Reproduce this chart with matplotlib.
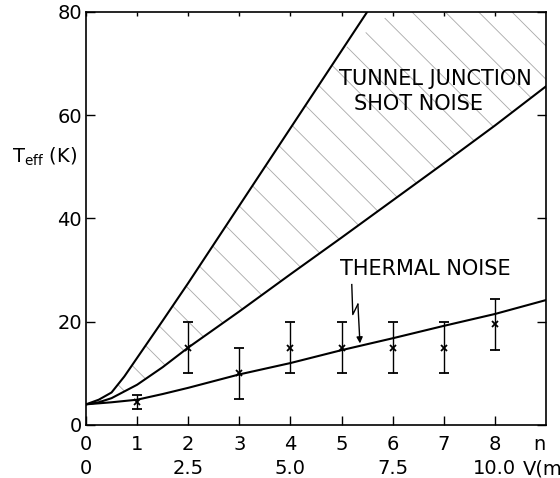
import numpy as np
import matplotlib
matplotlib.use("Agg")
import matplotlib.pyplot as plt

plt.rcParams['font.family'] = ['DejaVu Sans']
plt.rcParams['hatch.linewidth'] = 0.6
plt.rcParams['hatch.color'] = '#a8a8a8'

# Measured effective noise temperature vs harmonic number n
meas_n = [1, 2, 3, 4, 5, 6, 7, 8]
meas_T = [4.5, 15, 10, 15, 15, 15, 15, 19.5]
meas_err = [1.4, 5, 5, 5, 5, 5, 5, 5]

# Thermal noise curve
thermal_n = [0, 0.5, 1, 1.5, 2, 3, 4, 5, 6, 7, 8, 9]
thermal_T = [4.0, 4.4, 4.9, 6.0, 7.2, 9.8, 12.0, 14.5, 16.8, 19.2, 21.5, 24.2]

# Tunnel junction shot noise: lower and upper bounds
shot_lo_n = [0, 0.25, 0.5, 1, 1.5, 2, 3, 4, 5, 6, 7, 8, 9]
shot_lo_T = [4.0, 4.4, 5.2, 7.8, 11.2, 15.0, 22.0, 29.2, 36.3, 43.5, 50.7, 58.0, 65.6]
shot_hi_n = [0, 0.25, 0.5, 0.75, 1, 1.5, 2, 2.5, 3, 4, 5, 5.5]
shot_hi_T = [4.0, 4.9, 6.3, 9.4, 13.0, 20.2, 27.5, 35.0, 42.5, 57.5, 72.5, 80.0]

n_ticks = [0, 1, 2, 3, 4, 5, 6, 7, 8]
v_ticks = [0, 2.5, 5.0, 7.5, 10.0]
v_labels = ['0', '2.5', '5.0', '7.5', '10.0']
y_ticks = [0, 20, 40, 60, 80]
V_PER_N = 1.25

fig = plt.figure(figsize=(5.6, 4.78), dpi=100)
ax = fig.add_axes([86 / 560, 1 - 425 / 478, 460 / 560, 413 / 478])
ax.set_xlim(0, 9)
ax.set_ylim(0, 80)

# hatched band between the two shot-noise bounds
lo = np.array(shot_lo_T)
hi_fill = np.interp(shot_lo_n, shot_hi_n, shot_hi_T, right=80.0)
ax.fill_between(shot_lo_n, lo, hi_fill, facecolor='none', edgecolor='#a8a8a8',
                hatch='\\', linewidth=0)

ax.plot(shot_hi_n, shot_hi_T, color='black', lw=1.5)
ax.plot(shot_lo_n, shot_lo_T, color='black', lw=1.5)
ax.plot(thermal_n, thermal_T, color='black', lw=1.5)

ax.errorbar(meas_n, meas_T, yerr=meas_err, fmt='x', color='black',
            ms=4.5, mew=1.3, elinewidth=1.0, capsize=3.6, capthick=1.0)

# text labels
ax.text(4.95, 67.0, 'TUNNEL JUNCTION', fontsize=15, va='center', ha='left')
ax.text(5.24, 62.2, 'SHOT NOISE', fontsize=15, va='center', ha='left')
ax.text(4.97, 30.3, 'THERMAL NOISE', fontsize=15, va='center', ha='left')

# zig-zag pointer to the thermal curve
ax.plot([5.20, 5.22, 5.32], [27.2, 21.4, 23.4], color='black', lw=1.0)
ax.annotate('', xy=(5.36, 15.8), xytext=(5.32, 23.4),
            arrowprops=dict(arrowstyle='-|>', color='black', lw=1.0,
                            mutation_scale=9, shrinkA=0, shrinkB=0))

# axes styling
for s in ax.spines.values():
    s.set_linewidth(1.2)
ax.set_xticks(n_ticks)
ax.set_xticklabels([str(v) for v in n_ticks])
ax.set_yticks(y_ticks)
ax.tick_params(axis='both', direction='in', labelsize=14, width=1.0)
ax.tick_params(axis='x', top=True, length=6.5, pad=7)
ax.tick_params(axis='y', right=True, length=6.5, pad=3)
for t in ax.xaxis.get_major_ticks():
    t.tick2line.set_markersize(3)

# voltage scale under the harmonic number
sec = ax.secondary_xaxis('bottom', functions=(lambda n: n * V_PER_N,
                                              lambda v: v / V_PER_N))
sec.set_xticks(v_ticks)
sec.set_xticklabels(v_labels)
sec.tick_params(length=0, pad=24.5, labelsize=14)
sec.spines['bottom'].set_visible(False)

ax.annotate('n', xy=(8.88, 0), xycoords=('data', 'axes fraction'),
            xytext=(0, -7), textcoords='offset points', ha='center', va='top',
            fontsize=14)
ax.annotate('V(mV)', xy=(8.55, 0), xycoords=('data', 'axes fraction'),
            xytext=(0, -24.5), textcoords='offset points', ha='left', va='top',
            fontsize=14, annotation_clip=False)

fig.text(12 / 560, 1 - 163 / 478, r'$\mathregular{T_{eff}}$ (K)', fontsize=14,
         ha='left', va='baseline')

fig.savefig('out.png', dpi=100)
